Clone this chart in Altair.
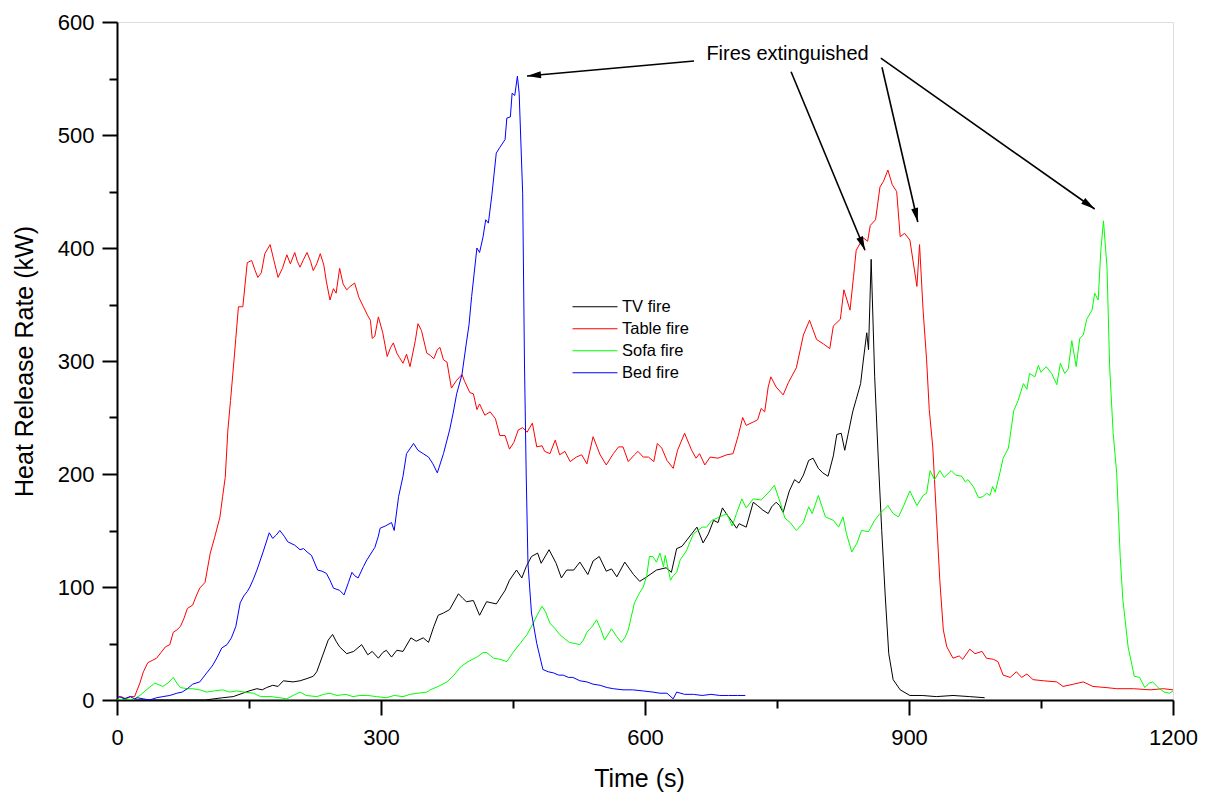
import math
import altair as alt
import pandas as pd

# ---------------- data ----------------
series_names = ["TV fire", "Table fire", "Sofa fire", "Bed fire"]
series_colors = ["#000000", "#ff0000", "#00ff00", "#0000ff"]

tv_t = [0, 60, 100, 110, 120, 132, 143, 150, 159, 165, 170, 177, 183, 189, 200, 208, 216, 223, 227, 234,
        240, 245, 249, 253, 261, 269, 278, 285, 290, 297, 302, 306, 312, 318, 325, 334, 340, 348, 354, 360,
        365, 371, 378, 388, 393, 397, 405, 412, 420, 431, 441, 446, 454, 460, 465, 471, 478, 482, 491, 499,
        505, 511, 519, 526, 535, 541, 548, 556, 562, 568, 577, 587, 594, 602, 613, 624, 630, 636, 642, 645,
        653, 659, 666, 672, 678, 683, 688, 694, 698, 704, 707, 715, 723, 728, 734, 740, 744, 749, 753, 757,
        761, 764, 770, 775, 780, 786, 791, 797, 802, 808, 814, 818, 823, 827, 831, 836, 840, 845, 848, 852,
        854, 857, 861, 865, 869, 873, 877, 882, 890, 901, 915, 931, 950, 969, 986]
tv_v = [0, 0, 0, 1, 2, 3, 6, 8, 10, 9, 11, 13, 12, 17, 16, 17, 19, 21, 25, 40,
        53, 58, 52, 47, 41, 43, 49, 40, 43, 37, 42, 44, 38, 44, 43, 55, 52, 55, 51, 65,
        75, 77, 80, 94, 90, 87, 88, 75, 87, 85, 97, 106, 115, 108, 118, 127, 130, 121, 133, 121,
        108, 115, 115, 122, 111, 123, 127, 114, 116, 109, 122, 111, 105, 109, 115, 117, 113, 134, 136, 139,
        147, 153, 139, 147, 159, 157, 170, 163, 159, 152, 156, 153, 175, 172, 168, 165, 171, 175, 172, 166,
        177, 185, 195, 192, 199, 212, 214, 205, 201, 198, 216, 235, 236, 221, 236, 255, 266, 280, 300, 325,
        310, 390, 286, 215, 150, 92, 41, 18, 9, 4, 4, 3, 4, 3, 2]

table_t = [0, 5, 10, 15, 20, 26, 30, 35, 40, 45, 50, 55, 60, 64, 68, 72, 76, 80, 86, 90,
           94, 100, 106, 111, 117, 120, 123, 126, 129, 132, 135, 138, 143, 148, 153, 157, 160, 164, 168, 174,
           178, 183, 188, 193, 197, 202, 205, 208, 212, 216, 220, 223, 227, 231, 235, 238, 242, 246, 249, 253,
           257, 261, 265, 270, 275, 280, 285, 288, 290, 293, 297, 302, 307, 311, 314, 318, 321, 325, 329, 333,
           339, 342, 346, 352, 356, 360, 364, 367, 371, 375, 380, 386, 392, 395, 401, 405, 409, 412, 418, 424,
           430, 435, 441, 446, 451, 456, 461, 466, 472, 477, 483, 486, 492, 498, 503, 509, 515, 522, 528, 534,
           541, 549, 556, 564, 570, 575, 581, 588, 592, 598, 604, 610, 614, 619, 625, 632, 637, 645, 653, 658,
           662, 668, 674, 683, 693, 700, 706, 711, 715, 723, 728, 732, 736, 740, 743, 749, 757, 763, 772, 780,
           787, 795, 803, 810, 814, 822, 826, 833, 837, 840, 848, 853, 856, 862, 867, 871, 876, 881, 886, 890,
           895, 901, 909, 912, 916, 920, 923, 927, 931, 935, 939, 943, 950, 957, 961, 969, 975, 983, 988, 996,
           1001, 1007, 1015, 1022, 1028, 1034, 1041, 1053, 1068, 1075, 1087, 1098, 1109, 1124, 1136, 1155, 1174, 1189, 1200]
table_v = [2, 3, 1, 3, 3, 15, 25, 33, 35, 37, 42, 47, 49, 60, 62, 65, 72, 81, 84, 92,
           99, 104, 130, 144, 162, 180, 197, 239, 265, 292, 320, 348, 348, 387, 389, 380, 374, 378, 395, 403,
           390, 374, 382, 394, 386, 396, 388, 383, 390, 396, 388, 380, 386, 395, 385, 370, 354, 364, 360, 382,
           368, 363, 366, 369, 356, 348, 340, 336, 320, 322, 339, 325, 304, 312, 316, 307, 303, 298, 306, 295,
           318, 333, 327, 307, 305, 302, 310, 312, 301, 299, 276, 283, 288, 282, 272, 271, 257, 262, 252, 255,
           249, 234, 234, 222, 228, 239, 241, 237, 245, 224, 225, 220, 218, 230, 217, 220, 211, 215, 217, 209,
           233, 217, 208, 218, 224, 224, 211, 217, 220, 215, 215, 211, 227, 223, 212, 205, 221, 236, 221, 214,
           218, 208, 215, 214, 217, 218, 234, 250, 243, 246, 248, 258, 255, 277, 286, 277, 270, 281, 294, 323,
           336, 319, 315, 311, 331, 337, 363, 345, 375, 398, 409, 406, 420, 425, 454, 459, 469, 456, 450, 410,
           413, 407, 366, 403, 345, 301, 257, 224, 165, 106, 62, 47, 37, 39, 36, 45, 41, 43, 37, 36,
           34, 22, 20, 25, 20, 23, 18, 17, 16, 12, 14, 16, 12, 11, 10, 10, 9, 10, 9]

sofa_t = [0, 10, 18, 26, 35, 43, 52, 58, 64, 68, 72, 80, 86, 94, 102, 110, 120, 128, 136, 145,
          155, 163, 175, 185, 193, 200, 208, 215, 227, 235, 242, 250, 260, 268, 276, 285, 295, 306, 315, 325,
          333, 342, 352, 356, 365, 375, 383, 390, 399, 409, 416, 420, 428, 435, 443, 450, 458, 466, 473, 478,
          483, 487, 492, 498, 503, 509, 514, 520, 526, 530, 534, 540, 545, 550, 554, 558, 562, 568, 573, 577,
          581, 588, 594, 598, 602, 605, 609, 613, 617, 621, 623, 629, 632, 636, 640, 647, 655, 660, 665, 670,
          676, 685, 693, 699, 704, 710, 715, 723, 732, 742, 747, 754, 759, 765, 772, 780, 786, 790, 797, 805,
          814, 820, 825, 829, 835, 841, 846, 854, 861, 867, 876, 882, 888, 894, 901, 909, 916, 920, 924, 929,
          935, 940, 948, 953, 960, 964, 967, 973, 979, 984, 988, 992, 995, 998, 1003, 1007, 1013, 1019, 1024, 1030,
          1034, 1037, 1043, 1047, 1050, 1056, 1062, 1068, 1072, 1077, 1081, 1085, 1090, 1094, 1098, 1102, 1108, 1111, 1115, 1118,
          1121, 1125, 1128, 1132, 1136, 1140, 1143, 1149, 1156, 1162, 1168, 1173, 1177, 1183, 1190, 1196, 1200]
sofa_v = [0, 1, 0, 4, 10, 15, 12, 15, 20, 15, 11, 10, 10, 9, 7, 8, 9, 7, 8, 7,
          6, 3, 3, 2, 1, 4, 7, 4, 3, 5, 6, 4, 5, 3, 4, 4, 3, 2, 4, 3,
          5, 6, 7, 9, 12, 16, 22, 29, 34, 38, 42, 42, 37, 36, 34, 42, 50, 58, 68, 76,
          83, 78, 68, 63, 58, 54, 51, 50, 49, 53, 60, 65, 71, 62, 53, 58, 63, 56, 51, 55,
          62, 86, 95, 100, 110, 127, 127, 122, 130, 118, 128, 106, 110, 113, 124, 132, 147, 150, 153, 153,
          159, 162, 165, 154, 165, 178, 170, 178, 177, 185, 190, 174, 161, 157, 150, 157, 171, 165, 181, 162,
          159, 153, 162, 147, 131, 139, 150, 149, 159, 165, 172, 165, 162, 172, 185, 172, 181, 183, 203, 195,
          203, 197, 203, 199, 198, 193, 195, 189, 179, 180, 183, 181, 189, 184, 200, 214, 223, 256, 265, 280,
          275, 289, 286, 296, 290, 295, 289, 279, 298, 289, 293, 318, 295, 320, 323, 337, 345, 360, 354, 398,
          424, 383, 295, 236, 201, 127, 89, 47, 21, 20, 11, 15, 16, 11, 7, 6, 8]

bed_t = [0, 3, 8, 11, 15, 20, 23, 30, 37, 45, 52, 60, 68, 74, 80, 86, 94, 102, 109, 114,
         119, 125, 130, 135, 140, 144, 148, 151, 155, 159, 166, 173, 177, 181, 185, 190, 194, 202, 208, 212,
         216, 221, 228, 233, 238, 242, 246, 253, 258, 263, 267, 270, 274, 280, 284, 293, 297, 299, 305, 312,
         315, 320, 325, 329, 337, 342, 348, 354, 359, 364, 371, 378, 382, 386, 392, 397, 400, 403, 409, 412,
         416, 419, 422, 426, 431, 435, 441, 443, 447, 449, 452, 455, 457, 461, 463, 465, 467, 471, 477, 484,
         490, 496, 502, 507, 513, 518, 526, 534, 541, 549, 557, 564, 575, 586, 598, 609, 617, 625, 632, 636,
         645, 655, 665, 675, 685, 695, 705, 714]
bed_v = [2, 3, 1, 2, 3, 1, 2, 1, 0, 2, 3, 4, 6, 7, 10, 14, 16, 24, 31, 38,
         46, 49, 55, 65, 86, 92, 96, 100, 107, 115, 131, 148, 143, 146, 150, 145, 140, 137, 133, 134,
         131, 128, 115, 114, 112, 106, 99, 97, 93, 104, 113, 110, 108, 118, 124, 135, 145, 152, 154, 157,
         150, 180, 198, 218, 227, 221, 218, 215, 209, 201, 218, 239, 254, 271, 288, 316, 332, 357, 400, 396,
         410, 425, 422, 447, 484, 489, 496, 515, 516, 537, 535, 552, 537, 448, 300, 200, 121, 77, 50, 27,
         25, 24, 22, 22, 20, 20, 17, 16, 14, 13, 11, 10, 9, 9, 8, 7, 6, 6, 1, 7,
         5, 5, 4, 5, 4, 4, 4, 4]

# annotation ("Fires extinguished") in data coordinates
ann_text = ["Fires extinguished"]
ann_t = [762]
ann_v = [572]
arrow_x1 = [655.7, 766, 869.3, 868]
arrow_y1 = [565.5, 556, 560, 568]
arrow_x2 = [465.9, 850, 910, 1111]
arrow_y2 = [552.2, 398, 423, 434.5]

x_ticks = [0, 150, 300, 450, 600, 750, 900, 1050, 1200]
y_ticks = [0, 50, 100, 150, 200, 250, 300, 350, 400, 450, 500, 550, 600]

# ---------------- build tables ----------------
rows = []
for name, ts, vs in zip(series_names, [tv_t, table_t, sofa_t, bed_t], [tv_v, table_v, sofa_v, bed_v]):
    for t, v in zip(ts, vs):
        rows.append({"series": name, "t": t, "v": v})
df = pd.DataFrame(rows)

W, H = 1056, 678
X_MAX, Y_MAX = 1200, 600
kx, ky = W / X_MAX, H / Y_MAX

arr = pd.DataFrame({"x1": arrow_x1, "y1": arrow_y1, "x2": arrow_x2, "y2": arrow_y2})
arr["ang"] = [
    (math.degrees(math.atan2((b - a) * kx, (d - c) * ky))) % 360
    for a, b, c, d in zip(arrow_x1, arrow_x2, arrow_y1, arrow_y2)
]
ann = pd.DataFrame({"label": ann_text, "t": ann_t, "v": ann_v})

FONT = "Liberation Sans"
xs = alt.Scale(domain=[0, X_MAX], nice=False, zero=False)
ys = alt.Scale(domain=[0, Y_MAX], nice=False, zero=False)

x_axis = alt.Axis(
    values=x_ticks, format="d",
    tickSize={"condition": {"test": "datum.value % 300 === 0", "value": 15}, "value": 8},
    labelExpr="datum.value % 300 === 0 ? datum.label : ''",
    labelFontSize=22, labelPadding=12, labelFont=FONT, labelColor="black",
    title="Time (s)", titleFontSize=25, titleFont=FONT, titleFontWeight="normal",
    titleX=W / 2 - 6, titleY=66, titleColor="black",
    grid=False, domainColor="black", domainWidth=2, tickColor="black", tickWidth=2,
    labelFlush=False, labelOverlap=False,
)
y_axis = alt.Axis(
    values=y_ticks, format="d",
    tickSize={"condition": {"test": "datum.value % 100 === 0", "value": 15}, "value": 8},
    labelExpr="datum.value % 100 === 0 ? datum.label : ''",
    labelFontSize=22, labelPadding=8, labelFont=FONT, labelColor="black",
    title="Heat Release Rate (kW)", titleFontSize=25, titleFont=FONT, titleFontWeight="normal",
    titleX=-80, titleY=H / 2, titleColor="black",
    grid=False, domainColor="black", domainWidth=2, tickColor="black", tickWidth=2,
    labelFlush=False, labelOverlap=False,
)

lines = alt.Chart(df).mark_line(strokeWidth=1, clip=True).encode(
    x=alt.X("t:Q", scale=xs, axis=x_axis),
    y=alt.Y("v:Q", scale=ys, axis=y_axis),
    color=alt.Color(
        "series:N",
        scale=alt.Scale(domain=series_names, range=series_colors),
        legend=alt.Legend(
            title=None, orient="none", legendX=455, legendY=274,
            symbolType="stroke", symbolSize=2025, symbolStrokeWidth=1,
            labelFontSize=16.5, labelFont=FONT, labelColor="black", labelOffset=4,
            clipHeight=21.5, rowPadding=0, padding=0,
        ),
    ),
)

rules = alt.Chart(arr).mark_rule(color="black", strokeWidth=1.6).encode(
    x="x1:Q", y="y1:Q", x2="x2:Q", y2="y2:Q"
)
heads = alt.Chart(arr).mark_point(
    shape="M0,0L0.5,2L-0.5,2Z", filled=True, size=196, color="black", opacity=1
).encode(x="x2:Q", y="y2:Q", angle=alt.Angle("ang:Q", scale=None))

text = alt.Chart(ann).mark_text(fontSize=20, font=FONT, color="black", align="center", baseline="middle").encode(
    x="t:Q", y="v:Q", text="label:N"
)

chart = (
    alt.layer(lines, rules, heads, text)
    .properties(
        width=W, height=H,
        padding={"left": 109, "top": 14, "right": 30, "bottom": 93},
        autosize=alt.AutoSizeParams(type="none"),
    )
    .configure_view(stroke=None)
    .configure(background="white")
)

chart.save("out.html", embed_options={"renderer": "svg", "actions": False})
